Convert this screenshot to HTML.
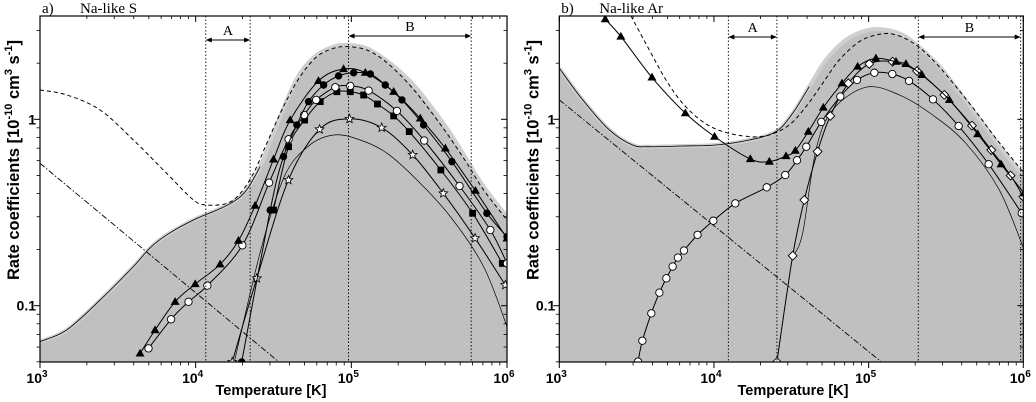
<!DOCTYPE html>
<html><head><meta charset="utf-8"><style>
body{margin:0;background:#fff}
svg{display:block}
text{font-family:"Liberation Sans",sans-serif}
.serif{font-family:"Liberation Serif",serif}
</style></head><body>
<svg id="chart" width="1036" height="402" viewBox="0 0 1036 402" xmlns="http://www.w3.org/2000/svg"></svg>
<script>
// ===== Data (log10 T, log10 rate) =====
// Panel a: Na-like S
const aTotT=[3.0,3.171,3.386,3.6,3.707,3.814,3.986,4.136,4.243,4.328,4.414,4.5,4.586,4.671,4.778,4.886,4.982,5.1,5.207,5.314,5.421,5.528,5.636,5.743,5.85,6.0];
const aTotR=[-1.193,-1.131,-0.970,-0.790,-0.690,-0.620,-0.540,-0.487,-0.442,-0.379,-0.254,-0.075,0.104,0.247,0.345,0.390,0.399,0.381,0.327,0.256,0.166,0.050,-0.075,-0.218,-0.361,-0.522];
const aDashT=[3.0,3.171,3.386,3.6,3.814,3.986,4.071,4.2,4.285,4.371,4.457,4.564,4.671,4.778,4.886,4.982,5.1,5.207,5.314,5.421,5.528,5.636,5.743,5.85,6.0];
const aDashR=[0.157,0.131,0.050,-0.111,-0.290,-0.433,-0.460,-0.451,-0.399,-0.290,-0.129,0.068,0.229,0.336,0.381,0.390,0.372,0.318,0.238,0.139,0.023,-0.102,-0.236,-0.379,-0.540];
const aDotDashT=[3.0,4.532];
const aDotDashR=[-0.236,-1.30];
const aThinT=[4.248,4.419,4.569,4.719,4.886,5.057,5.229,5.421,5.636,5.85,6.0];
const aThinR=[-1.302,-0.699,-0.308,-0.147,-0.084,-0.111,-0.182,-0.325,-0.522,-0.790,-1.112];
const aTriT=[3.643,3.739,3.868,3.997,4.157,4.275,4.382,4.5,4.607,4.789,4.95,5.09,5.272,5.443,5.604,5.797,6.0];
const aTriR=[-1.256,-1.131,-0.979,-0.884,-0.778,-0.651,-0.463,-0.215,-0.004,0.206,0.270,0.250,0.148,0.005,-0.156,-0.383,-0.639];
const aOpenT=[3.697,3.842,3.954,4.075,4.3,4.472,4.597,4.697,4.774,4.897,4.993,5.111,5.293,5.468,5.695,5.893,6.0];
const aOpenR=[-1.229,-1.073,-0.979,-0.892,-0.676,-0.340,-0.107,0.023,0.104,0.172,0.179,0.154,0.045,-0.114,-0.358,-0.594,-0.773];
const aFCircT=[4.296,4.479,4.564,4.65,4.725,4.822,4.918,5.015,5.122,5.218,5.325,5.464,5.646,5.871,6.0];
const aFCircR=[-1.302,-0.487,-0.200,-0.030,0.095,0.184,0.233,0.250,0.243,0.184,0.104,-0.030,-0.227,-0.504,-0.630];
const aSqT=[4.5,4.597,4.7,4.8,4.907,4.993,5.079,5.168,5.272,5.372,5.575,5.779,5.97];
const aSqR=[-0.487,-0.147,-0.004,0.095,0.148,0.148,0.130,0.082,0.018,-0.066,-0.272,-0.504,-0.773];
const aStarT=[4.235,4.393,4.596,4.796,4.988,5.195,5.394,5.591,5.795,5.989];
const aStarR=[-1.302,-0.853,-0.326,-0.054,0.002,-0.045,-0.191,-0.397,-0.638,-0.889];
const aRegA=[4.065,4.35];
const aRegB=[4.982,5.77];

// Panel b: Na-like Ar
const bTotT=[3.0,3.151,3.323,3.474,3.582,3.797,4.013,4.228,4.401,4.509,4.616,4.724,4.853,4.983,5.091,5.22,5.349,5.478,5.608,5.737,5.866,6.006];
const bTotR=[0.274,0.104,-0.057,-0.138,-0.147,-0.143,-0.138,-0.111,-0.066,0.032,0.175,0.318,0.426,0.476,0.483,0.453,0.372,0.265,0.122,-0.021,-0.165,-0.308];
const bDashT=[3.463,3.582,3.69,3.797,3.927,4.056,4.228,4.358,4.487,4.595,4.703,4.81,4.94,5.069,5.177,5.306,5.435,5.565,5.694,5.823,6.006];
const bDashR=[0.555,0.372,0.211,0.086,-0.013,-0.066,-0.093,-0.084,-0.030,0.068,0.193,0.318,0.417,0.456,0.453,0.399,0.301,0.175,0.041,-0.102,-0.290];
const bDotDashT=[3.0,5.08];
const bDotDashR=[0.104,-1.30];
const bThinT=[4.509,4.573,4.659,4.767,4.983,5.198,5.414,5.629,5.845,6.006];
const bThinR=[-0.737,-0.612,-0.165,0.050,0.172,0.131,0.023,-0.129,-0.379,-0.701];
const bTriT=[3.297,3.398,3.599,3.815,4.004,4.235,4.358,4.466,4.526,4.61,4.707,4.828,4.929,5.047,5.177,5.241,5.345,5.522,5.705,5.856,6.006];
const bTriR=[0.537,0.444,0.225,0.033,-0.093,-0.213,-0.227,-0.197,-0.168,-0.066,0.063,0.193,0.283,0.327,0.309,0.297,0.238,0.104,-0.079,-0.241,-0.397];
const bOpenT=[3.509,3.537,3.595,3.647,3.692,3.733,3.767,3.806,3.894,3.996,4.138,4.341,4.461,4.537,4.597,4.694,4.817,4.925,5.037,5.153,5.261,5.416,5.582,5.776,5.99];
const bOpenR=[-1.30,-1.188,-1.041,-0.930,-0.853,-0.790,-0.742,-0.704,-0.620,-0.544,-0.451,-0.365,-0.299,-0.220,-0.147,-0.014,0.122,0.211,0.250,0.243,0.206,0.107,-0.036,-0.241,-0.504];
const bDiaT=[4.407,4.509,4.584,4.67,4.752,4.869,5.004,5.155,5.313,5.489,5.668,5.793,5.918,6.0];
const bDiaR=[-1.302,-0.732,-0.433,-0.173,0.018,0.193,0.297,0.309,0.259,0.131,-0.034,-0.165,-0.302,-0.415];
const bRegA=[4.093,4.407];
const bRegB=[5.321,5.983];

const yTickVals=[0.1,1];
const yTickLabels=['0.1','1'];
const xTickExp=[3,4,5,6];

// ===== Rendering =====
const NS='http://www.w3.org/2000/svg';
const svg=document.getElementById('chart');
const TOP=16,BOT=362,Y1=119.3,DEC=186.4;
function mk(tag,attrs,parent){const e=document.createElementNS(NS,tag);for(const k in attrs)e.setAttribute(k,attrs[k]);(parent||svg).appendChild(e);return e;}
function smooth(pts){
  if(pts.length<3)return 'M'+pts.map(p=>p[0].toFixed(1)+','+p[1].toFixed(1)).join(' L');
  let d='M'+pts[0][0].toFixed(1)+','+pts[0][1].toFixed(1);
  for(let i=0;i<pts.length-1;i++){
    const p0=pts[Math.max(i-1,0)],p1=pts[i],p2=pts[i+1],p3=pts[Math.min(i+2,pts.length-1)];
    const c1=[p1[0]+(p2[0]-p0[0])/6,p1[1]+(p2[1]-p0[1])/6];
    const c2=[p2[0]-(p3[0]-p1[0])/6,p2[1]-(p3[1]-p1[1])/6];
    d+=' C'+c1.map(v=>v.toFixed(1))+' '+c2.map(v=>v.toFixed(1))+' '+p2[0].toFixed(1)+','+p2[1].toFixed(1);
  }
  return d;
}
function marker(g,type,x,y){
  const r=3.7;let e;
  if(type==='tri'){e=mk('polygon',{points:`${x},${y-4.7} ${x-4.5},${y+3.1} ${x+4.5},${y+3.1}`,fill:'#000'},g);}
  else if(type==='open'){e=mk('circle',{cx:x,cy:y,r:r,fill:'#fff',stroke:'#000','stroke-width':0.9},g);}
  else if(type==='fcirc'){e=mk('circle',{cx:x,cy:y,r:r,fill:'#000'},g);}
  else if(type==='sq'){e=mk('rect',{x:x-3.4,y:y-3.4,width:6.8,height:6.8,fill:'#000'},g);}
  else if(type==='dia'){e=mk('polygon',{points:`${x},${y-4.4} ${x+4.4},${y} ${x},${y+4.4} ${x-4.4},${y}`,fill:'#fff',stroke:'#000','stroke-width':0.9},g);}
  else if(type==='star'){let p=[];for(let k=0;k<10;k++){const a=-Math.PI/2+k*Math.PI/5,rr=k%2?2:4.6;p.push((x+rr*Math.cos(a)).toFixed(1)+','+(y+rr*Math.sin(a)).toFixed(1));}
    e=mk('polygon',{points:p.join(' '),fill:'#fff',stroke:'#000','stroke-width':0.8},g);}
  
  
}
function panel(cfg){
  const L=cfg.L,R=cfg.R,sx=(R-L)/3;
  const X=lt=>L+(lt-3)*sx, Y=lr=>Y1-lr*DEC;
  const P=(T,V)=>T.map((t,i)=>[X(t),Y(V[i])]);
  const g=mk('g',{});
  
  
  const cp=mk('clipPath',{id:cfg.id+'clip'},g);
  mk('rect',{x:L,y:TOP,width:R-L,height:BOT-TOP},cp);
  const pg=mk('g',{'clip-path':`url(#${cfg.id}clip)`},g);
  const tp=P(cfg.totT,cfg.totR);
  const fillD=smooth(tp)+` L${R+5},${tp[tp.length-1][1]} L${R+5},${BOT+5} L${L-5},${BOT+5} L${L-5},${tp[0][1]} Z`;
  const fill=mk('path',{d:fillD,fill:'#c0c0c0'},pg);
  
  
  const band=mk('path',{d:smooth(tp),fill:'none',stroke:'#cfcfcf','stroke-width':4},pg);
  
  
  const nLeft=cfg.totT.findIndex(t=>t>cfg.blackUntil);
  const tl=mk('path',{d:smooth(tp.slice(0,nLeft+1)),fill:'none',stroke:'#000','stroke-width':0.8},pg);
  
  
  const lineDefs=[[cfg.dashT,cfg.dashR,'4,3',1,'dashed-curve'],[cfg.ddT,cfg.ddR,'6,2,1.5,2',0.9,'dash-dot-curve'],[cfg.thinT,cfg.thinR,'',0.7,'thin-curve']];
  lineDefs.forEach(l=>{const e=mk('path',{d:smooth(P(l[0],l[1])),fill:'none',stroke:'#000','stroke-width':l[3]},pg);if(l[2])e.setAttribute('stroke-dasharray',l[2]);
    
    });
  cfg.series.forEach(s=>{
    const sg=mk('g',{},pg);
    
    
    const pts=P(s[0],s[1]);
    mk('path',{d:smooth(pts),fill:'none',stroke:'#000','stroke-width':1},sg);
    pts.forEach(p=>marker(sg,s[2],p[0],p[1]));
  });
  [cfg.regA[0],cfg.regA[1],cfg.regB[0],cfg.regB[1]].forEach(t=>{
    const e=mk('line',{x1:X(t),x2:X(t),y1:TOP,y2:BOT,stroke:'#000','stroke-width':0.9,'stroke-dasharray':'1.5,2'},pg);
    
    
  });
  [[cfg.regA,cfg.yA,'A','region-a'],[cfg.regB,cfg.yB,'B','region-b']].forEach(r=>{
    const x1=X(r[0][0]),x2=X(r[0][1]),y=r[1];
    const rg=mk('g',{},g);
    
    
    mk('line',{x1:x1+1,x2:x2-1,y1:y,y2:y,stroke:'#000','stroke-width':1.1},rg);
    mk('polygon',{points:`${x1},${y} ${x1+6},${y-2.5} ${x1+6},${y+2.5}`},rg);
    mk('polygon',{points:`${x2},${y} ${x2-6},${y-2.5} ${x2-6},${y+2.5}`},rg);
    const t=mk('text',{x:(x1+x2)/2,y:y-5,'text-anchor':'middle','font-size':14,class:'serif'},g);t.textContent=r[2];
    
    
  });
  const fr=mk('rect',{x:L,y:TOP,width:R-L,height:BOT-TOP,fill:'none',stroke:'#000','stroke-width':1.2},g);
  
  
  for(let d=3;d<=6;d++){
    [[BOT,BOT+6],[TOP,TOP+6]].forEach(a=>mk('line',{x1:X(d),x2:X(d),y1:a[0],y2:a[1],stroke:'#000','stroke-width':1},g));
    if(d<6)for(let m=2;m<=9;m++){const x=X(d+Math.log10(m));
      mk('line',{x1:x,x2:x,y1:BOT,y2:BOT+3.5,stroke:'#000','stroke-width':0.8},g);
      mk('line',{x1:x,x2:x,y1:TOP,y2:TOP+3,stroke:'#000','stroke-width':0.8},g);}
  }
  xTickExp.forEach(e=>{
    const t=mk('text',{x:X(e)-3,y:383,'text-anchor':'middle','font-size':14,'font-weight':'bold'},g);
    t.textContent='10';
    const s=mk('tspan',{dy:-6,'font-size':10},t);s.textContent=String(e);
    
    
  });
  for(let d=-2;d<=0;d++)for(let m=1;m<=9;m++){
    const lv=d+Math.log10(m),y=Y(lv);if(y<TOP||y>BOT)continue;
    const len=m===1?6:3.5;
    mk('line',{x1:L-len,x2:L,y1:y,y2:y,stroke:'#000','stroke-width':m===1?1:0.8},g);
    mk('line',{x1:R-len,x2:R,y1:y,y2:y,stroke:'#000','stroke-width':m===1?1:0.8},g);
  }
  yTickVals.forEach((v,i)=>{const t=mk('text',{x:L-4,y:Y(Math.log10(v))+5,'text-anchor':'end','font-size':14,'font-weight':'bold'},g);t.textContent=yTickLabels[i];
    
    });
  const xt=mk('text',{x:cfg.xTitleX,y:395,'text-anchor':'middle','font-size':14.5,'font-weight':'bold'},g);
  xt.textContent='Temperature [K]';
  
  
  const yt=mk('text',{x:0,y:0,'text-anchor':'middle','font-size':16.5,'font-weight':'bold',transform:`translate(${L-21},160) rotate(-90)`},g);
  yt.textContent='Rate coefficients [10';
  const t1=mk('tspan',{dy:-7,'font-size':11},yt);t1.textContent='-10';
  const t2=mk('tspan',{dy:7},yt);t2.textContent=' cm';
  const t3=mk('tspan',{dy:-7,'font-size':11},yt);t3.textContent='3';
  const t4=mk('tspan',{dy:7},yt);t4.textContent=' s';
  const t5=mk('tspan',{dy:-7,'font-size':11},yt);t5.textContent='-1';
  const t6=mk('tspan',{dy:7},yt);t6.textContent=']';
  
  
  const pl=mk('text',{x:L+2,y:13,'font-size':15,class:'serif'},g);pl.textContent=cfg.letter;
  
  
  const ti=mk('text',{x:L+40,y:13,'font-size':15,class:'serif'},g);ti.textContent=cfg.title;
  
  
}
panel({id:'a',L:40,R:507,letter:'a)',title:'Na-like S',totT:aTotT,totR:aTotR,blackUntil:4.35,dashT:aDashT,dashR:aDashR,ddT:aDotDashT,ddR:aDotDashR,thinT:aThinT,thinR:aThinR,
  series:[[aStarT,aStarR,'star'],[aSqT,aSqR,'sq'],[aOpenT,aOpenR,'open'],[aFCircT,aFCircR,'fcirc'],[aTriT,aTriR,'tri']],
  regA:aRegA,regB:aRegB,yA:40,yB:36,xTitleX:271});
panel({id:'b',L:559.3,R:1023.3,letter:'b)',title:'Na-like Ar',totT:bTotT,totR:bTotR,blackUntil:4.6,dashT:bDashT,dashR:bDashR,ddT:bDotDashT,ddR:bDotDashR,thinT:bThinT,thinR:bThinR,
  series:[[bDiaT,bDiaR,'dia'],[bOpenT,bOpenR,'open'],[bTriT,bTriR,'tri']],
  regA:bRegA,regB:bRegB,yA:37,yB:37,xTitleX:793});
</script>
</body></html>
